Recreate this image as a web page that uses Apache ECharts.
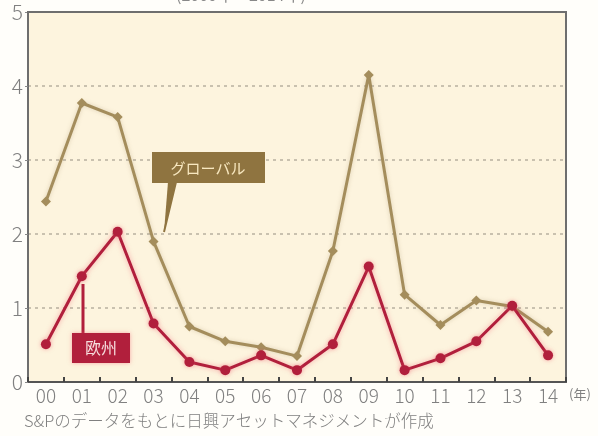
<!DOCTYPE html>
<html><head><meta charset="utf-8">
<script src="https://cdn.jsdelivr.net/npm/echarts@6/dist/echarts.min.js"></script>
<style>html,body{margin:0;padding:0;background:#fffefa;}#c{width:598px;height:436px;}</style>
</head><body><div id="c"></div>
<script>
const years = ['00','01','02','03','04','05','06','07','08','09','10','11','12','13','14'];
const globalVals = [2.44,3.77,3.58,1.90,0.75,0.55,0.47,0.35,1.77,4.15,1.18,0.77,1.10,1.02,0.68];
const europeVals = [0.51,1.43,2.03,0.79,0.27,0.16,0.36,0.16,0.51,1.56,0.16,0.32,0.55,1.03,0.36];
const yTicks = [0,1,2,3,4,5];

const chart = echarts.init(document.getElementById('c'));
const FONT = '"Noto Sans CJK JP", "Noto Sans", sans-serif';
const gold = '#a48d5c', red = '#b11f3c';
chart.setOption({
  backgroundColor: '#fffefa',
  animation: false,
  textStyle: {fontFamily: FONT},
  grid: {left: 28, right: 32, top: 12, bottom: 54, show: true, backgroundColor: '#fdf4de', borderColor: '#6e6e6e', borderWidth: 2},
  xAxis: {
    type: 'category', data: years, boundaryGap: true,
    axisLine: {lineStyle: {color: '#555', width: 2}},
    axisTick: {show: true, inside: true, length: 5, lineStyle: {color: '#444', width: 2}},
    axisLabel: {color: '#808080', fontSize: 19, margin: 4, fontWeight: 300, fontFamily: FONT}
  },
  yAxis: {
    type: 'value', min: 0, max: 5, interval: 1,
    axisLine: {show: true, lineStyle: {color: '#6e6e6e', width: 2}},
    axisTick: {show: true, length: 3, lineStyle: {color: '#888'}},
    axisLabel: {color: '#808080', fontSize: 21, margin: 5, fontWeight: 300, fontFamily: FONT,
      formatter: v => yTicks.includes(v) ? String(v) : ''},
    splitLine: {show: true, lineStyle: {type: [3,4], color: '#b8b0a0', width: 1.5}}
  },
  series: [
    {name: 'グローバル', type: 'line', data: globalVals, symbol: 'diamond', symbolSize: 10,
     lineStyle: {color: gold, width: 3, shadowColor: 'rgba(160,140,100,0.35)', shadowBlur: 4},
     itemStyle: {color: gold}, z: 2},
    {name: '欧州', type: 'line', data: europeVals, symbol: 'circle', symbolSize: 10,
     lineStyle: {color: red, width: 3, shadowColor: 'rgba(240,90,110,0.5)', shadowBlur: 5},
     itemStyle: {color: red, shadowColor: 'rgba(240,90,110,0.5)', shadowBlur: 4}, z: 3}
  ],
  graphic: [
    {type: 'text', left: 176, top: -13, style: {text: '(2000年～2014年)', fill: '#888', font: '16px ' + FONT}},
    {type: 'line', shape: {x1: 27, y1: 12, x2: 567, y2: 12}, style: {stroke: '#6e6e6e', lineWidth: 2}, z: 5},
    {type: 'polyline', shape: {points: [[168,182],[176,182],[164,232]]}, style: {fill: '#8f7440', stroke: '#8f7440', lineWidth: 2}, z: 10},
    {type: 'rect', shape: {x: 152, y: 152, width: 113, height: 31}, style: {fill: '#8f7440'}, z: 10},
    {type: 'text', x: 208, y: 168, style: {text: 'グローバル', fill: '#f8e8c0', font: '15px ' + FONT, align: 'center', verticalAlign: 'middle'}, z: 11},
    {type: 'line', shape: {x1: 83, y1: 334, x2: 83, y2: 284}, style: {stroke: red, lineWidth: 3}, z: 10},
    {type: 'rect', shape: {x: 72, y: 333, width: 58, height: 30}, style: {fill: red, shadowColor: 'rgba(240,90,110,0.5)', shadowBlur: 4}, z: 10},
    {type: 'text', x: 101, y: 348, style: {text: '欧州', fill: '#f6dcdc', font: '16px ' + FONT, align: 'center', verticalAlign: 'middle'}, z: 11},
    {type: 'text', left: 569, top: 388, style: {text: '(年)', fill: '#808080', font: '13px ' + FONT}},
    {type: 'text', left: 24, top: 412, style: {text: 'S&Pのデータをもとに日興アセットマネジメントが作成', fill: '#808080', font: '300 16.5px ' + FONT}}
  ]
});
</script></body></html>
